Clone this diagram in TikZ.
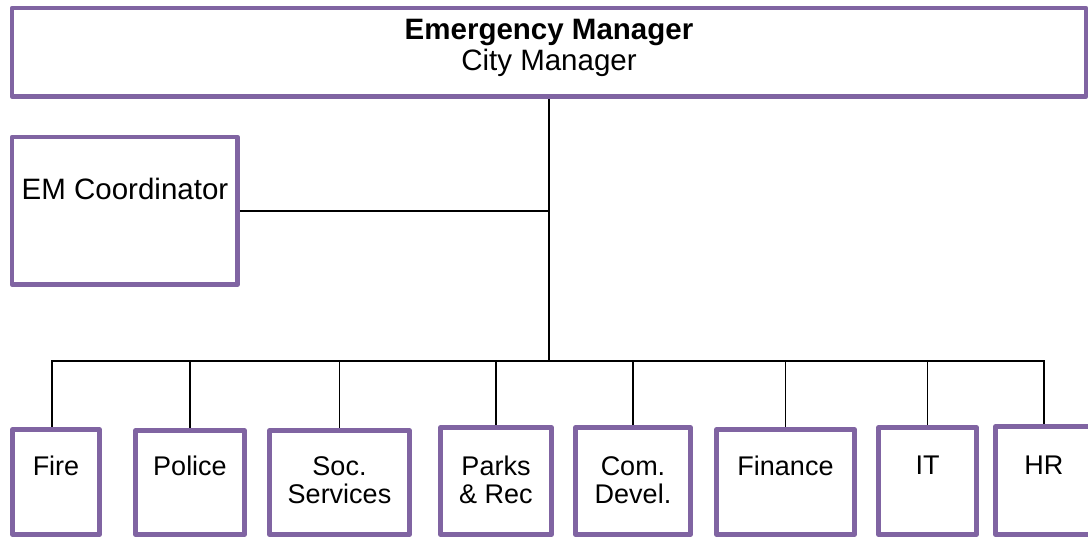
\documentclass[tikz,border=0pt]{standalone}
\usepackage{fontspec}
\setmainfont{Liberation Sans}

\definecolor{unitpurple}{HTML}{8064A2}

\tikzset{
	unit/.style={rectangle, draw=unitpurple, line width=4.5pt, line join=round, inner sep=0pt},
	link/.style={draw=black, line width=1.8pt},
	lbl/.style={inner sep=0pt, anchor=north, align=center, font=\fontsize{27}{28}\selectfont},
}

\begin{document}
\begin{tikzpicture}[x=1pt, y=-1pt]
	\useasboundingbox (0,0) rectangle (1088,539);
	% head and coordinator
	\node[unit, minimum width=1074pt, minimum height=88.5pt] (cm) at (549,52.25) {};
	\node[unit, minimum width=225.5pt, minimum height=147.5pt] (emc) at (124.75,210.75) {};
	% departments
	\node[unit, minimum width=87pt, minimum height=105pt] (fire) at (56,482) {};
	\node[unit, minimum width=109pt, minimum height=104pt] (police) at (190,482.5) {};
	\node[unit, minimum width=140pt, minimum height=104pt] (soc) at (339.5,482.5) {};
	\node[unit, minimum width=111pt, minimum height=107pt] (parks) at (496,481) {};
	\node[unit, minimum width=115pt, minimum height=107pt] (com) at (633,481) {};
	\node[unit, minimum width=138pt, minimum height=105pt] (fin) at (785.5,482) {};
	\node[unit, minimum width=98pt, minimum height=107pt] (it) at (927.5,481) {};
	\node[unit, minimum width=96.5pt, minimum height=108pt] (hr) at (1043.75,480.5) {};
	% texts
	\node[lbl, font=\fontsize{29.5}{31}\selectfont] (cmtxt) at (549,19) {\textbf{Emergency Manager}\\City Manager};
	\node[lbl, font=\fontsize{29.5}{31}\selectfont] (emctxt) at (125,177.5) {EM Coordinator};
	\node[lbl] (firetxt) at (56,456) {Fire};
	\node[lbl] (policetxt) at (190,456) {Police};
	\node[lbl] (soctxt) at (339.5,456) {Soc.\\Services};
	\node[lbl] (parkstxt) at (496,456) {Parks\\\& Rec};
	\node[lbl] (comtxt) at (633,456) {Com.\\Devel.};
	\node[lbl] (fintxt) at (785.5,456) {Finance};
	\node[lbl] (ittxt) at (927.5,456) {IT};
	\node[lbl] (hrtxt) at (1043.75,456) {HR};
	% lines
	\coordinate (hub) at (549,361);
	\draw[link] (cm.south) -- (hub);
	\draw[link] (emc.east) -- (emc.east -| hub);
	\draw[link] (hub) -| ([xshift=-4pt]fire.north);
	\draw[link] (hub) -| (police.north);
	\draw[link] (hub) -| (soc.north);
	\draw[link] (hub) -| (parks.north);
	\draw[link] (hub) -| (com.north);
	\draw[link] (hub) -| (fin.north);
	\draw[link] (hub) -| (it.north);
	\draw[link] (hub) -| (hr.north);
\end{tikzpicture}
\end{document}
